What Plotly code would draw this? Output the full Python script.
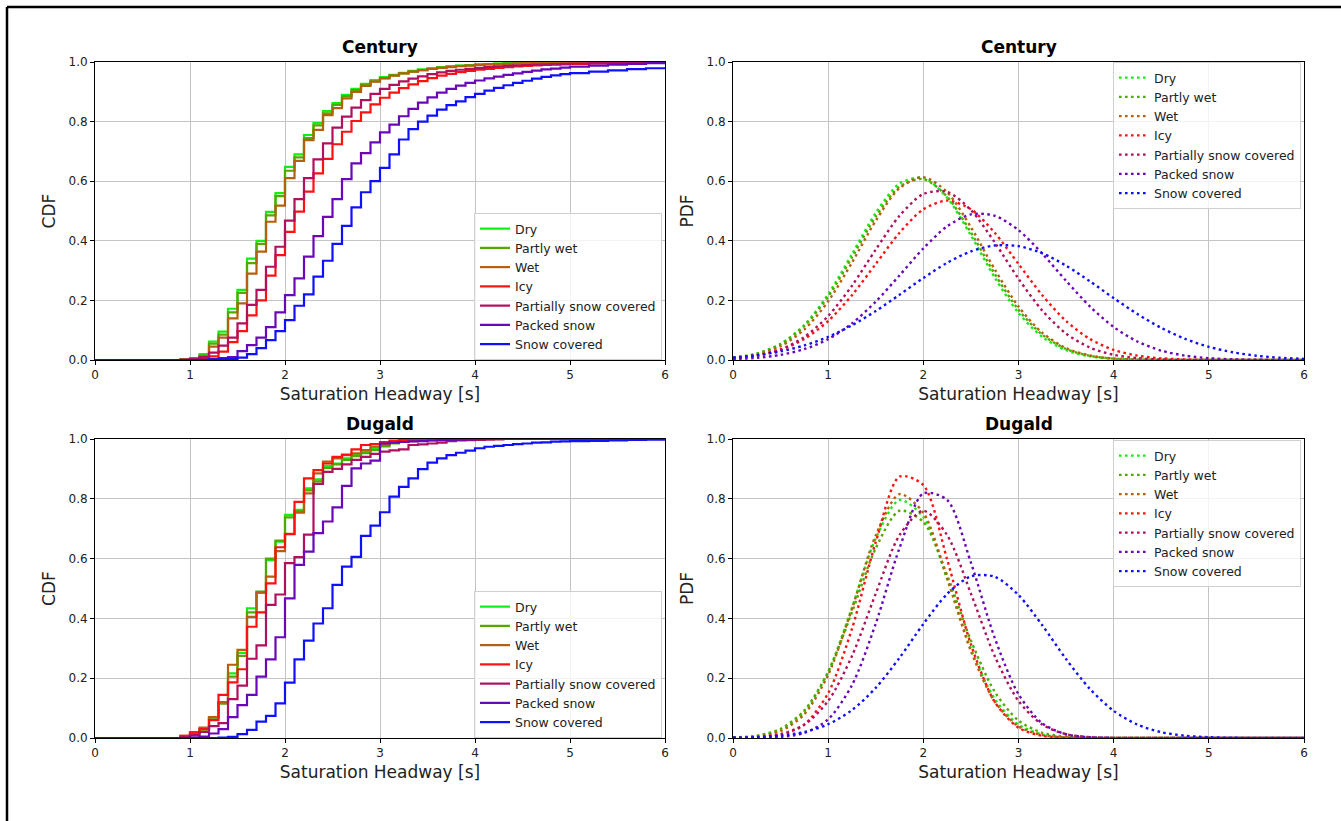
import plotly.graph_objects as go

W, H = 1341, 821

# ---------------- data ----------------
CONDITIONS = ["Dry", "Partly wet", "Wet", "Icy", "Partially snow covered", "Packed snow", "Snow covered"]
COLORS = ["#11EE11", "#52A800", "#B5600E", "#FF1111", "#B0105C", "#6A08B8", "#1010FF"]

# CDF step positions (saturation headway, s)
CDF_X = [0.0, 0.9, 1.0, 1.1, 1.2, 1.3, 1.4, 1.5, 1.6, 1.7, 1.8, 1.9, 2.0, 2.1, 2.2, 2.3, 2.4, 2.5,
         2.6, 2.7, 2.8, 2.9, 3.0, 3.1, 3.2, 3.3, 3.4, 3.5, 3.6, 3.7, 3.8, 3.9, 4.0, 4.1, 4.2, 4.3,
         4.4, 4.5, 4.6, 4.7, 4.8, 4.9, 5.0, 5.2, 5.4, 5.6, 5.8, 6.0]

century_cdf_dry = [0, 0.002, 0.006, 0.02, 0.062, 0.095, 0.172, 0.235, 0.34, 0.40, 0.497, 0.56, 0.648, 0.69, 0.755, 0.795, 0.835, 0.862,
                   0.89, 0.91, 0.927, 0.939, 0.949, 0.957, 0.964, 0.97, 0.975, 0.979, 0.983, 0.986, 0.988, 0.99, 0.992, 0.993, 0.995, 0.996,
                   0.997, 0.997, 0.998, 0.998, 0.999, 0.999, 0.999, 1.0, 1.0, 1.0, 1.0, 1.0]
century_cdf_partly_wet = [0, 0.002, 0.005, 0.015, 0.055, 0.085, 0.16, 0.225, 0.325, 0.39, 0.485, 0.55, 0.635, 0.68, 0.745, 0.787, 0.828, 0.856,
                          0.885, 0.906, 0.923, 0.935, 0.946, 0.955, 0.962, 0.968, 0.973, 0.977, 0.981, 0.984, 0.987, 0.989, 0.991, 0.993, 0.994, 0.995,
                          0.996, 0.997, 0.997, 0.998, 0.998, 0.999, 0.999, 0.999, 1.0, 1.0, 1.0, 1.0]
century_cdf_wet = [0, 0.001, 0.004, 0.012, 0.045, 0.075, 0.14, 0.19, 0.29, 0.364, 0.464, 0.518, 0.61, 0.668, 0.738, 0.772, 0.822, 0.845,
                   0.878, 0.90, 0.92, 0.934, 0.945, 0.954, 0.962, 0.968, 0.973, 0.977, 0.98, 0.983, 0.986, 0.988, 0.99, 0.992, 0.993, 0.994,
                   0.995, 0.996, 0.997, 0.997, 0.998, 0.998, 0.999, 0.999, 1.0, 1.0, 1.0, 1.0]
century_cdf_icy = [0, 0.0, 0.002, 0.005, 0.012, 0.028, 0.06, 0.097, 0.15, 0.20, 0.283, 0.352, 0.43, 0.498, 0.565, 0.626, 0.675, 0.724,
                   0.766, 0.802, 0.831, 0.858, 0.88, 0.897, 0.912, 0.925, 0.936, 0.946, 0.954, 0.96, 0.966, 0.97, 0.974, 0.977, 0.98, 0.983,
                   0.985, 0.987, 0.989, 0.99, 0.991, 0.992, 0.993, 0.995, 0.997, 0.998, 0.999, 1.0]
century_cdf_partial_snow = [0, 0.001, 0.004, 0.01, 0.025, 0.048, 0.075, 0.123, 0.185, 0.235, 0.313, 0.38, 0.468, 0.54, 0.61, 0.673, 0.727, 0.78,
                            0.817, 0.847, 0.872, 0.893, 0.91, 0.923, 0.935, 0.944, 0.952, 0.959, 0.965, 0.97, 0.974, 0.977, 0.98, 0.983, 0.985, 0.987,
                            0.989, 0.99, 0.991, 0.992, 0.993, 0.994, 0.995, 0.996, 0.997, 0.998, 0.999, 1.0]
century_cdf_packed_snow = [0, 0.0, 0.0, 0.001, 0.003, 0.006, 0.01, 0.03, 0.05, 0.075, 0.11, 0.16, 0.218, 0.274, 0.347, 0.416, 0.48, 0.54,
                           0.607, 0.66, 0.694, 0.73, 0.764, 0.79, 0.818, 0.843, 0.864, 0.881, 0.897, 0.91, 0.921, 0.93, 0.938, 0.945, 0.951, 0.957,
                           0.962, 0.967, 0.971, 0.975, 0.978, 0.981, 0.984, 0.988, 0.991, 0.994, 0.996, 0.998]
century_cdf_snow_covered = [0, 0.0, 0.0, 0.0, 0.001, 0.002, 0.004, 0.008, 0.02, 0.04, 0.067, 0.097, 0.134, 0.182, 0.22, 0.28, 0.333, 0.39,
                            0.45, 0.512, 0.563, 0.60, 0.645, 0.69, 0.74, 0.775, 0.80, 0.82, 0.84, 0.855, 0.868, 0.882, 0.893, 0.904, 0.913, 0.922,
                            0.93, 0.937, 0.944, 0.95, 0.955, 0.959, 0.963, 0.968, 0.972, 0.976, 0.979, 0.982]

dugald_cdf_dry = [0, 0.005, 0.015, 0.03, 0.07, 0.12, 0.216, 0.285, 0.434, 0.486, 0.595, 0.657, 0.746, 0.763, 0.835, 0.865, 0.91, 0.918,
                  0.935, 0.946, 0.958, 0.969, 0.98, 0.99, 0.992, 0.994, 0.995, 0.996, 0.997, 0.997, 0.998, 0.998, 0.999, 1.0, 1.0, 1.0,
                  1.0, 1.0, 1.0, 1.0, 1.0, 1.0, 1.0, 1.0, 1.0, 1.0, 1.0, 1.0]
dugald_cdf_partly_wet = [0, 0.004, 0.013, 0.028, 0.068, 0.115, 0.205, 0.275, 0.42, 0.49, 0.60, 0.66, 0.738, 0.758, 0.828, 0.858, 0.903, 0.915,
                         0.93, 0.943, 0.953, 0.963, 0.975, 0.985, 0.99, 0.993, 0.995, 0.996, 0.997, 0.998, 0.998, 0.999, 0.999, 1.0, 1.0, 1.0,
                         1.0, 1.0, 1.0, 1.0, 1.0, 1.0, 1.0, 1.0, 1.0, 1.0, 1.0, 1.0]
dugald_cdf_wet = [0, 0.007, 0.02, 0.035, 0.07, 0.12, 0.245, 0.295, 0.405, 0.486, 0.54, 0.625, 0.683, 0.754, 0.818, 0.885, 0.924, 0.935,
                  0.946, 0.952, 0.963, 0.974, 0.98, 0.988, 0.992, 0.995, 0.996, 0.997, 0.998, 0.998, 0.999, 0.999, 1.0, 1.0, 1.0, 1.0,
                  1.0, 1.0, 1.0, 1.0, 1.0, 1.0, 1.0, 1.0, 1.0, 1.0, 1.0, 1.0]
dugald_cdf_icy = [0, 0.007, 0.018, 0.03, 0.06, 0.144, 0.186, 0.23, 0.372, 0.42, 0.517, 0.638, 0.682, 0.79, 0.868, 0.896, 0.918, 0.94,
                  0.948, 0.965, 0.98, 0.983, 0.99, 0.995, 0.997, 0.998, 1.0, 1.0, 1.0, 1.0, 1.0, 1.0, 1.0, 1.0, 1.0, 1.0,
                  1.0, 1.0, 1.0, 1.0, 1.0, 1.0, 1.0, 1.0, 1.0, 1.0, 1.0, 1.0]
dugald_cdf_partial_snow = [0, 0.003, 0.01, 0.02, 0.04, 0.05, 0.13, 0.175, 0.265, 0.31, 0.445, 0.48, 0.585, 0.605, 0.68, 0.85, 0.89, 0.90,
                           0.915, 0.93, 0.94, 0.95, 0.958, 0.962, 0.965, 0.98, 0.982, 0.985, 0.988, 0.993, 0.995, 0.996, 0.997, 0.998, 0.999, 1.0,
                           1.0, 1.0, 1.0, 1.0, 1.0, 1.0, 1.0, 1.0, 1.0, 1.0, 1.0, 1.0]
dugald_cdf_packed_snow = [0, 0.0, 0.002, 0.005, 0.015, 0.03, 0.07, 0.11, 0.144, 0.205, 0.263, 0.337, 0.467, 0.579, 0.623, 0.685, 0.724, 0.771,
                          0.843, 0.902, 0.918, 0.928, 0.985, 0.988, 0.99, 0.992, 0.993, 0.995, 0.996, 0.997, 0.998, 0.999, 1.0, 1.0, 1.0, 1.0,
                          1.0, 1.0, 1.0, 1.0, 1.0, 1.0, 1.0, 1.0, 1.0, 1.0, 1.0, 1.0]
dugald_cdf_snow_covered = [0, 0.0, 0.0, 0.0, 0.0, 0.001, 0.004, 0.013, 0.027, 0.055, 0.074, 0.116, 0.185, 0.263, 0.326, 0.383, 0.434, 0.512,
                           0.573, 0.606, 0.676, 0.71, 0.755, 0.807, 0.84, 0.868, 0.899, 0.921, 0.935, 0.946, 0.954, 0.961, 0.969, 0.974, 0.977, 0.98,
                           0.983, 0.985, 0.988, 0.989, 0.991, 0.992, 0.993, 0.994, 0.995, 0.997, 0.998, 1.0]

# PDF sample positions (saturation headway, s)
PDF_X = [0.0, 0.25, 0.5, 0.75, 1.0, 1.25, 1.5, 1.75, 2.0, 2.25, 2.5, 2.75, 3.0, 3.25, 3.5, 3.75,
         4.0, 4.25, 4.5, 4.75, 5.0, 5.25, 5.5, 5.75, 6.0]

century_pdf_dry = [0.0074, 0.0215, 0.0542, 0.1177, 0.2202, 0.3552, 0.4937, 0.5918, 0.6114, 0.5446, 0.4181, 0.2767, 0.1579,
                   0.0776, 0.0329, 0.0120, 0.0038, 0.0010, 0.0002, 0.0, 0.0, 0.0, 0.0, 0.0, 0.0]
century_pdf_partly_wet = [0.0072, 0.0210, 0.0525, 0.1137, 0.2127, 0.3441, 0.4810, 0.5813, 0.6072, 0.5483, 0.4281, 0.2888, 0.1685,
                          0.0850, 0.0370, 0.0140, 0.0045, 0.0013, 0.0003, 0.0001, 0.0, 0.0, 0.0, 0.0, 0.0]
century_pdf_wet = [0.0059, 0.0178, 0.0460, 0.1025, 0.1970, 0.3268, 0.4674, 0.5767, 0.6137, 0.5632, 0.4458, 0.3044, 0.1793,
                   0.0911, 0.0399, 0.0151, 0.0049, 0.0014, 0.0003, 0.0001, 0.0, 0.0, 0.0, 0.0, 0.0]
century_pdf_icy = [0.0056, 0.0146, 0.0339, 0.0705, 0.1309, 0.2173, 0.3223, 0.4271, 0.5057, 0.5350, 0.5057, 0.4271, 0.3223,
                   0.2173, 0.1309, 0.0705, 0.0339, 0.0146, 0.0056, 0.0019, 0.0006, 0.0002, 0.0, 0.0, 0.0]
century_pdf_partial_snow = [0.0051, 0.0143, 0.0354, 0.0771, 0.1479, 0.2494, 0.3704, 0.4841, 0.5571, 0.5642, 0.5030, 0.3948, 0.2727,
                            0.1658, 0.0887, 0.0418, 0.0173, 0.0063, 0.0020, 0.0006, 0.0001, 0.0, 0.0, 0.0, 0.0]
century_pdf_packed_snow = [0.0029, 0.0073, 0.0171, 0.0363, 0.0700, 0.1228, 0.1959, 0.2840, 0.3744, 0.4486, 0.4888, 0.4841, 0.4360,
                           0.3569, 0.2657, 0.1798, 0.1106, 0.0619, 0.0315, 0.0145, 0.0061, 0.0023, 0.0008, 0.0003, 0.0001]
century_pdf_snow_covered = [0.0086, 0.0163, 0.0290, 0.0489, 0.0776, 0.1163, 0.1643, 0.2189, 0.2751, 0.3261, 0.3645, 0.3842, 0.3819,
                            0.3581, 0.3167, 0.2641, 0.2077, 0.1541, 0.1078, 0.0711, 0.0442, 0.0260, 0.0144, 0.0075, 0.0037]

dugald_pdf_dry = [0.0012, 0.0064, 0.0269, 0.0874, 0.2213, 0.4358, 0.6678, 0.7960, 0.7382, 0.5327, 0.2990, 0.1306, 0.0444,
                  0.0117, 0.0024, 0.0004, 0.0001, 0.0, 0.0, 0.0, 0.0, 0.0, 0.0, 0.0, 0.0]
dugald_pdf_partly_wet = [0.0017, 0.0080, 0.0306, 0.0924, 0.2212, 0.4206, 0.6347, 0.7600, 0.7224, 0.5449, 0.3262, 0.1549, 0.0584,
                         0.0175, 0.0041, 0.0008, 0.0001, 0.0, 0.0, 0.0, 0.0, 0.0, 0.0, 0.0, 0.0]
dugald_pdf_wet = [0.0009, 0.0051, 0.0229, 0.0795, 0.2116, 0.4322, 0.6777, 0.8157, 0.7534, 0.5341, 0.2906, 0.1214, 0.0389,
                  0.0096, 0.0018, 0.0003, 0.0, 0.0, 0.0, 0.0, 0.0, 0.0, 0.0, 0.0, 0.0]
dugald_pdf_icy = [0.0002, 0.0016, 0.0100, 0.0452, 0.1498, 0.3652, 0.6549, 0.8740, 0.8460, 0.5973, 0.3133, 0.1208, 0.0343,
                  0.0072, 0.0011, 0.0001, 0.0, 0.0, 0.0, 0.0, 0.0, 0.0, 0.0, 0.0, 0.0]
dugald_pdf_partial_snow = [0.0005, 0.0029, 0.0128, 0.0447, 0.1239, 0.2740, 0.4829, 0.6785, 0.7600, 0.6785, 0.4829, 0.2740, 0.1239,
                           0.0447, 0.0128, 0.0029, 0.0005, 0.0, 0.0, 0.0, 0.0, 0.0, 0.0, 0.0, 0.0]
dugald_pdf_packed_snow = [0.0001, 0.0006, 0.0035, 0.0169, 0.0624, 0.1765, 0.3826, 0.6352, 0.8180, 0.7960, 0.5863, 0.3348, 0.1464,
                          0.0490, 0.0126, 0.0025, 0.0004, 0.0, 0.0, 0.0, 0.0, 0.0, 0.0, 0.0, 0.0]
dugald_pdf_snow_covered = [0.0008, 0.0027, 0.0079, 0.0202, 0.0461, 0.0933, 0.1678, 0.2683, 0.3813, 0.4816, 0.5406, 0.5393, 0.4782,
                           0.3769, 0.2639, 0.1643, 0.0909, 0.0447, 0.0195, 0.0076, 0.0026, 0.0008, 0.0002, 0.0001, 0.0]

X_TICKS = [0, 1, 2, 3, 4, 5, 6]
Y_TICKS = [0.0, 0.2, 0.4, 0.6, 0.8, 1.0]
PANEL_TITLES = ["Century", "Century", "Dugald", "Dugald"]
X_LABEL = "Saturation Headway [s]"

century_cdf = [century_cdf_dry, century_cdf_partly_wet, century_cdf_wet, century_cdf_icy,
               century_cdf_partial_snow, century_cdf_packed_snow, century_cdf_snow_covered]
dugald_cdf = [dugald_cdf_dry, dugald_cdf_partly_wet, dugald_cdf_wet, dugald_cdf_icy,
              dugald_cdf_partial_snow, dugald_cdf_packed_snow, dugald_cdf_snow_covered]
century_pdf = [century_pdf_dry, century_pdf_partly_wet, century_pdf_wet, century_pdf_icy,
               century_pdf_partial_snow, century_pdf_packed_snow, century_pdf_snow_covered]
dugald_pdf = [dugald_pdf_dry, dugald_pdf_partly_wet, dugald_pdf_wet, dugald_pdf_icy,
              dugald_pdf_partial_snow, dugald_pdf_packed_snow, dugald_pdf_snow_covered]

# ---------------- figure ----------------
FONT = "DejaVu Sans"
fig = go.Figure()


def px_x(p):
    return p / W


def px_y(p):
    return 1 - p / H


# axes pixel boxes (left, right, top, bottom)
boxes = {
    1: (95, 665, 62, 360),
    2: (733, 1304, 62, 360),
    3: (95, 665, 439, 738),
    4: (733, 1304, 439, 738),
}

panels = [
    (1, century_cdf, CDF_X, "cdf", "legend"),
    (2, century_pdf, PDF_X, "pdf", "legend2"),
    (3, dugald_cdf, CDF_X, "cdf", "legend3"),
    (4, dugald_pdf, PDF_X, "pdf", "legend4"),
]

for idx, series, xs, kind, leg in panels:
    xa = "x" if idx == 1 else f"x{idx}"
    ya = "y" if idx == 1 else f"y{idx}"
    for name, color, ys in zip(CONDITIONS, COLORS, series):
        if kind == "cdf":
            line = dict(color=color, width=2.2, shape="hv")
        else:
            line = dict(color=color, width=2.4, dash="2.6px,3.4px", shape="spline", smoothing=0.8)
        fig.add_trace(go.Scatter(x=xs, y=ys, mode="lines", name=name, line=line,
                                 xaxis=xa, yaxis=ya, legend=leg, showlegend=True,
                                 hoverinfo="skip"))

layout = dict(
    template="none",
    width=W, height=H, autosize=False,
    margin=dict(l=0, r=0, t=0, b=0, pad=0),
    paper_bgcolor="white", plot_bgcolor="white",
    font=dict(family=FONT, color="#222222", size=12),
    annotations=[], shapes=[],
)

for idx, (l, r, t, b) in boxes.items():
    sx = "" if idx == 1 else str(idx)
    ylab = "CDF" if idx in (1, 3) else "PDF"
    layout[f"xaxis{sx}"] = dict(
        domain=[px_x(l), px_x(r)], anchor=f"y{sx}", range=[0, 6], automargin=False,
        tickmode="array", tickvals=X_TICKS, ticktext=[str(v) for v in X_TICKS],
        ticks="outside", ticklen=4, tickcolor="black", tickfont=dict(size=12, color="#222222"),
        showgrid=True, gridcolor="#c4c4c4", gridwidth=1,
        showline=True, linecolor="black", linewidth=1, mirror=True, zeroline=False,
        title=dict(text=X_LABEL, font=dict(size=17, color="#222222"), standoff=6),
    )
    layout[f"yaxis{sx}"] = dict(
        domain=[px_y(b), px_y(t)], anchor=f"x{sx}", range=[0, 1], automargin=False,
        tickmode="array", tickvals=Y_TICKS, ticktext=[f"{v:.1f}" for v in Y_TICKS],
        ticks="outside", ticklen=4, tickcolor="black", tickfont=dict(size=12, color="#222222"),
        showgrid=True, gridcolor="#c4c4c4", gridwidth=1,
        showline=True, linecolor="black", linewidth=1, mirror=True, zeroline=False,
        title=dict(text=ylab, font=dict(size=17, color="#222222"), standoff=8),
    )
    layout["annotations"].append(dict(
        text=f"<b>{PANEL_TITLES[idx - 1]}</b>", xref="paper", yref="paper",
        x=px_x((l + r) / 2), y=px_y(t - 15), xanchor="center", yanchor="middle",
        showarrow=False, font=dict(size=17, color="black", family=FONT)))

legend_pos = {"legend": (474, 213), "legend2": (1113, 62), "legend3": (474, 591), "legend4": (1113, 440)}
for key, (lx, ly) in legend_pos.items():
    layout[key] = dict(
        x=px_x(lx), y=px_y(ly), xanchor="left", yanchor="top",
        bgcolor="rgba(255,255,255,0.8)", bordercolor="#d0d0d0", borderwidth=1,
        font=dict(size=12.5, color="#222222", family=FONT), itemwidth=30,
    )

# outer frame (top and left edges visible)
layout["shapes"] = [
    dict(type="line", xref="paper", yref="paper", x0=px_x(7), x1=1.02, y0=px_y(7), y1=px_y(7),
         line=dict(color="black", width=2.5)),
    dict(type="line", xref="paper", yref="paper", x0=px_x(7), x1=px_x(7), y0=px_y(7), y1=-0.02,
         line=dict(color="black", width=2.5)),
]

fig.update_layout(**layout)
fig.write_html("out.html", config={"responsive": False, "displayModeBar": False},
               post_script="document.body.style.margin='0';document.body.style.overflow='hidden';")
